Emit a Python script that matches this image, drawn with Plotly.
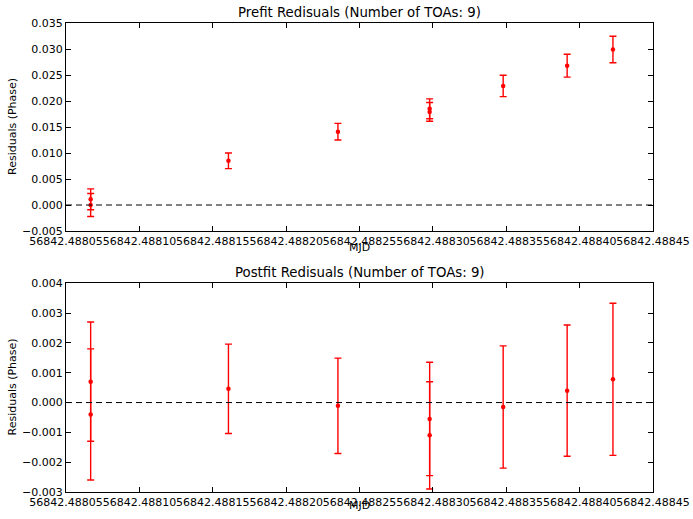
import plotly.graph_objects as go
from plotly.subplots import make_subplots

# TOA epochs (MJD) and residuals in phase
mjd = [56842.4880668, 56842.4880668, 56842.4881607, 56842.4882353,
       56842.4882978, 56842.4882978, 56842.4883479, 56842.4883915,
       56842.4884227]
prefit = [0.0011, 0.0000, 0.0085, 0.0141, 0.0185, 0.0179, 0.0229, 0.0268, 0.0299]
postfit = [0.0007, -0.0004, 0.00046, -0.00011, -0.00055, -0.0011, -0.00015, 0.0004, 0.00078]
errors = [0.0020, 0.0022, 0.0015, 0.0016, 0.0019, 0.0018, 0.00205, 0.0022, 0.00255]

n_toas = len(mjd)
x_range = [56842.48805, 56842.48845]
x_ticks = [56842.48805, 56842.48810, 56842.48815, 56842.48820, 56842.48825,
           56842.48830, 56842.48835, 56842.48840, 56842.48845]
pre_range = [-0.005, 0.035]
post_range = [-0.003, 0.004]

FONT = "DejaVu Sans"
W, H = 693, 519
ML, MR, MT, MB = 66, 40, 23, 27

fig = make_subplots(rows=2, cols=1)

for row, resid in ((1, prefit), (2, postfit)):
    fig.add_trace(go.Scatter(
        x=mjd, y=resid, mode="markers",
        marker=dict(color="#ff0000", size=4.5),
        error_y=dict(type="data", array=errors, visible=True,
                     color="#ff0000", thickness=1.4, width=3.5),
        showlegend=False, hoverinfo="skip",
    ), row=row, col=1)
    fig.add_hline(y=0, line=dict(color="black", width=1, dash="6px,4px"),
                  row=row, col=1)

axis_common = dict(
    showline=True, linecolor="black", linewidth=1, mirror="allticks",
    ticks="inside", ticklen=5, tickwidth=1, tickcolor="black",
    showgrid=False, zeroline=False, automargin=False,
    tickfont=dict(family=FONT, size=11, color="black"),
)

plot_h = H - MT - MB
def paper_y(px):
    return 1 - (px - MT) / plot_h

fig.update_layout(
    width=W, height=H,
    margin=dict(l=ML, r=MR, t=MT, b=MB),
    paper_bgcolor="white", plot_bgcolor="white",
    font=dict(family=FONT, color="black"),
    xaxis=dict(domain=[0, 1], range=x_range, tickvals=x_ticks,
               tickformat=".5f", tickangle=0, **axis_common),
    xaxis2=dict(domain=[0, 1], range=x_range, tickvals=x_ticks,
                tickformat=".5f", tickangle=0, **axis_common),
    yaxis=dict(domain=[paper_y(231), 1], range=pre_range, dtick=0.005,
               tickformat=".3f", **axis_common),
    yaxis2=dict(domain=[0, paper_y(283.3)], range=post_range, dtick=0.001,
                tickformat=".3f", **axis_common),
)

titles = [
    (f"Prefit Redisuals (Number of TOAs: {n_toas})", 1.0),
    (f"Postfit Redisuals (Number of TOAs: {n_toas})", paper_y(283.3)),
]
for text, ytop in titles:
    fig.add_annotation(text=text, xref="paper", yref="paper", x=0.5, y=ytop,
                       xanchor="center", yanchor="bottom", yshift=1,
                       showarrow=False, font=dict(family=FONT, size=13.3))

for y_mid in ((23 + 231) / 2, (283.3 + 491.7) / 2):
    fig.add_annotation(text="Residuals (Phase)", xref="paper", yref="paper",
                       x=0, y=paper_y(y_mid), xshift=12 - ML, textangle=-90,
                       xanchor="center", yanchor="middle", showarrow=False,
                       font=dict(family=FONT, size=11))

for y_mid in (247.5, 505.5):
    fig.add_annotation(text="MJD", xref="paper", yref="paper", x=0.5,
                       y=paper_y(y_mid), xanchor="center", yanchor="middle",
                       showarrow=False, font=dict(family=FONT, size=11))

fig.write_html("out.html")
